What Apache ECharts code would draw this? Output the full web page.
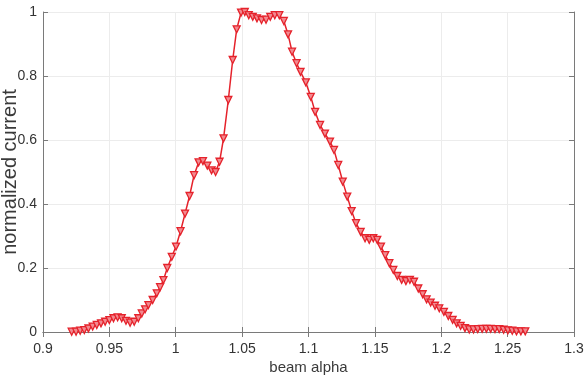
<!DOCTYPE html>
<html>
<head>
<meta charset="utf-8">
<script src="https://cdn.jsdelivr.net/npm/echarts@6/dist/echarts.min.js"></script>
<style>html,body{margin:0;padding:0;background:#fff}#c{width:585px;height:381px}</style>
</head>
<body>
<div id="c"></div>
<script>
var xTicks = [0.9, 0.95, 1, 1.05, 1.1, 1.15, 1.2, 1.25, 1.3];
var yTicks = [0, 0.2, 0.4, 0.6, 0.8, 1];
var xLabel = 'beam alpha';
var yLabel = 'normalized current';
var beamAlpha = [
0.9216,0.9249,0.9280,0.9311,0.9342,0.9374,0.9405,0.9437,0.9468,0.9500,
0.9531,0.9562,0.9593,0.9625,0.9656,0.9687,0.9718,0.9744,0.9769,0.9794,
0.9826,0.9857,0.9882,0.9907,0.9936,0.9970,1.0002,1.0036,1.0070,1.0104,
1.0138,1.0172,1.0205,1.0238,1.0270,1.0300,1.0330,1.0360,1.0396,1.0429,
1.0459,1.0492,1.0520,1.0550,1.0580,1.0612,1.0646,1.0680,1.0712,1.0746,
1.0780,1.0814,1.0846,1.0876,1.0910,1.0940,1.0980,1.1017,1.1050,1.1087,
1.1124,1.1162,1.1192,1.1224,1.1258,1.1292,1.1325,1.1358,1.1393,1.1426,
1.1458,1.1488,1.1518,1.1546,1.1578,1.1609,1.1639,1.1669,1.1702,1.1734,
1.1764,1.1795,1.1827,1.1860,1.1890,1.1920,1.1953,1.1985,1.2020,1.2053,
1.2086,1.2116,1.2146,1.2179,1.2211,1.2243,1.2275,1.2308,1.2340,1.2372,
1.2405,1.2437,1.2470,1.2502,1.2535,1.2567,1.2600,1.2633
];
var normCurrent = [
0.001,0.001,0.004,0.006,0.011,0.017,0.022,0.027,0.032,0.037,
0.043,0.046,0.043,0.035,0.029,0.032,0.043,0.058,0.071,0.084,
0.100,0.121,0.140,0.162,0.200,0.235,0.267,0.315,0.370,0.425,
0.490,0.530,0.534,0.520,0.505,0.500,0.532,0.605,0.725,0.850,
0.946,0.998,1.000,0.990,0.985,0.980,0.975,0.976,0.985,0.990,
0.990,0.972,0.930,0.876,0.840,0.813,0.780,0.735,0.688,0.647,
0.620,0.595,0.569,0.522,0.470,0.423,0.378,0.340,0.313,0.293,
0.288,0.293,0.288,0.267,0.240,0.215,0.194,0.175,0.163,0.159,
0.163,0.157,0.136,0.118,0.102,0.092,0.082,0.074,0.063,0.050,
0.038,0.027,0.019,0.012,0.008,0.008,0.009,0.010,0.010,0.010,
0.009,0.009,0.007,0.005,0.004,0.002,0.002,0.002
];

var data = beamAlpha.map(function (x, i) { return [x, normCurrent[i]]; });
var FONT = '"Liberation Sans", Arial, sans-serif';
var axisCol = '#7a7a7a';
var gridCol = '#ececec';
function fmt(v){ return String(+(+v).toFixed(2)); }

var chart = echarts.init(document.getElementById('c'), null, {renderer: 'canvas'});
chart.setOption({
  backgroundColor: '#fff',
  animation: false,
  grid: {left: 43, right: 11, top: 12, bottom: 49, containLabel: false, outerBoundsMode: 'none'},
  xAxis: [{
    type: 'value', min: xTicks[0], max: xTicks[xTicks.length - 1], interval: 0.05,
    name: xLabel, nameLocation: 'middle', nameGap: 28, nameMoveOverlap: false,
    nameTextStyle: {fontFamily: FONT, fontSize: 15, color: '#3a3a3a'},
    axisLine: {show: true, lineStyle: {color: axisCol, width: 1}},
    axisTick: {show: true, inside: true, length: 5, lineStyle: {color: axisCol}},
    axisLabel: {fontFamily: FONT, fontSize: 14, color: '#333', margin: 10, formatter: fmt},
    splitLine: {show: true, lineStyle: {color: gridCol, width: 1}}
  }, {
    type: 'value', position: 'top', min: xTicks[0], max: xTicks[xTicks.length - 1], interval: 0.05,
    axisLine: {show: true, lineStyle: {color: axisCol, width: 1}},
    axisTick: {show: true, inside: true, length: 5, lineStyle: {color: axisCol}},
    axisLabel: {show: false}, splitLine: {show: false}
  }],
  yAxis: [{
    type: 'value', min: yTicks[0], max: yTicks[yTicks.length - 1], interval: 0.2,
    name: yLabel, nameLocation: 'middle', nameGap: 23, nameRotate: 90, nameMoveOverlap: false,
    nameTextStyle: {fontFamily: FONT, fontSize: 20, color: '#3a3a3a'},
    axisLine: {show: true, lineStyle: {color: axisCol, width: 1}},
    axisTick: {show: true, inside: true, length: 5, lineStyle: {color: axisCol}},
    axisLabel: {fontFamily: FONT, fontSize: 14, color: '#333', margin: 6, formatter: fmt},
    splitLine: {show: true, lineStyle: {color: gridCol, width: 1}}
  }, {
    type: 'value', position: 'right', min: yTicks[0], max: yTicks[yTicks.length - 1], interval: 0.2,
    axisLine: {show: true, lineStyle: {color: axisCol, width: 1}},
    axisTick: {show: true, inside: true, length: 5, lineStyle: {color: axisCol}},
    axisLabel: {show: false}, splitLine: {show: false}
  }],
  series: [{
    type: 'line', xAxisIndex: 0, yAxisIndex: 0,
    data: data,
    symbol: 'triangle', symbolRotate: 180, symbolSize: 7, showAllSymbol: true,
    lineStyle: {color: '#e5222b', width: 1.5},
    itemStyle: {color: '#f28a90', borderColor: '#e5222b', borderWidth: 1.3}
  }]
});
</script>
</body>
</html>
